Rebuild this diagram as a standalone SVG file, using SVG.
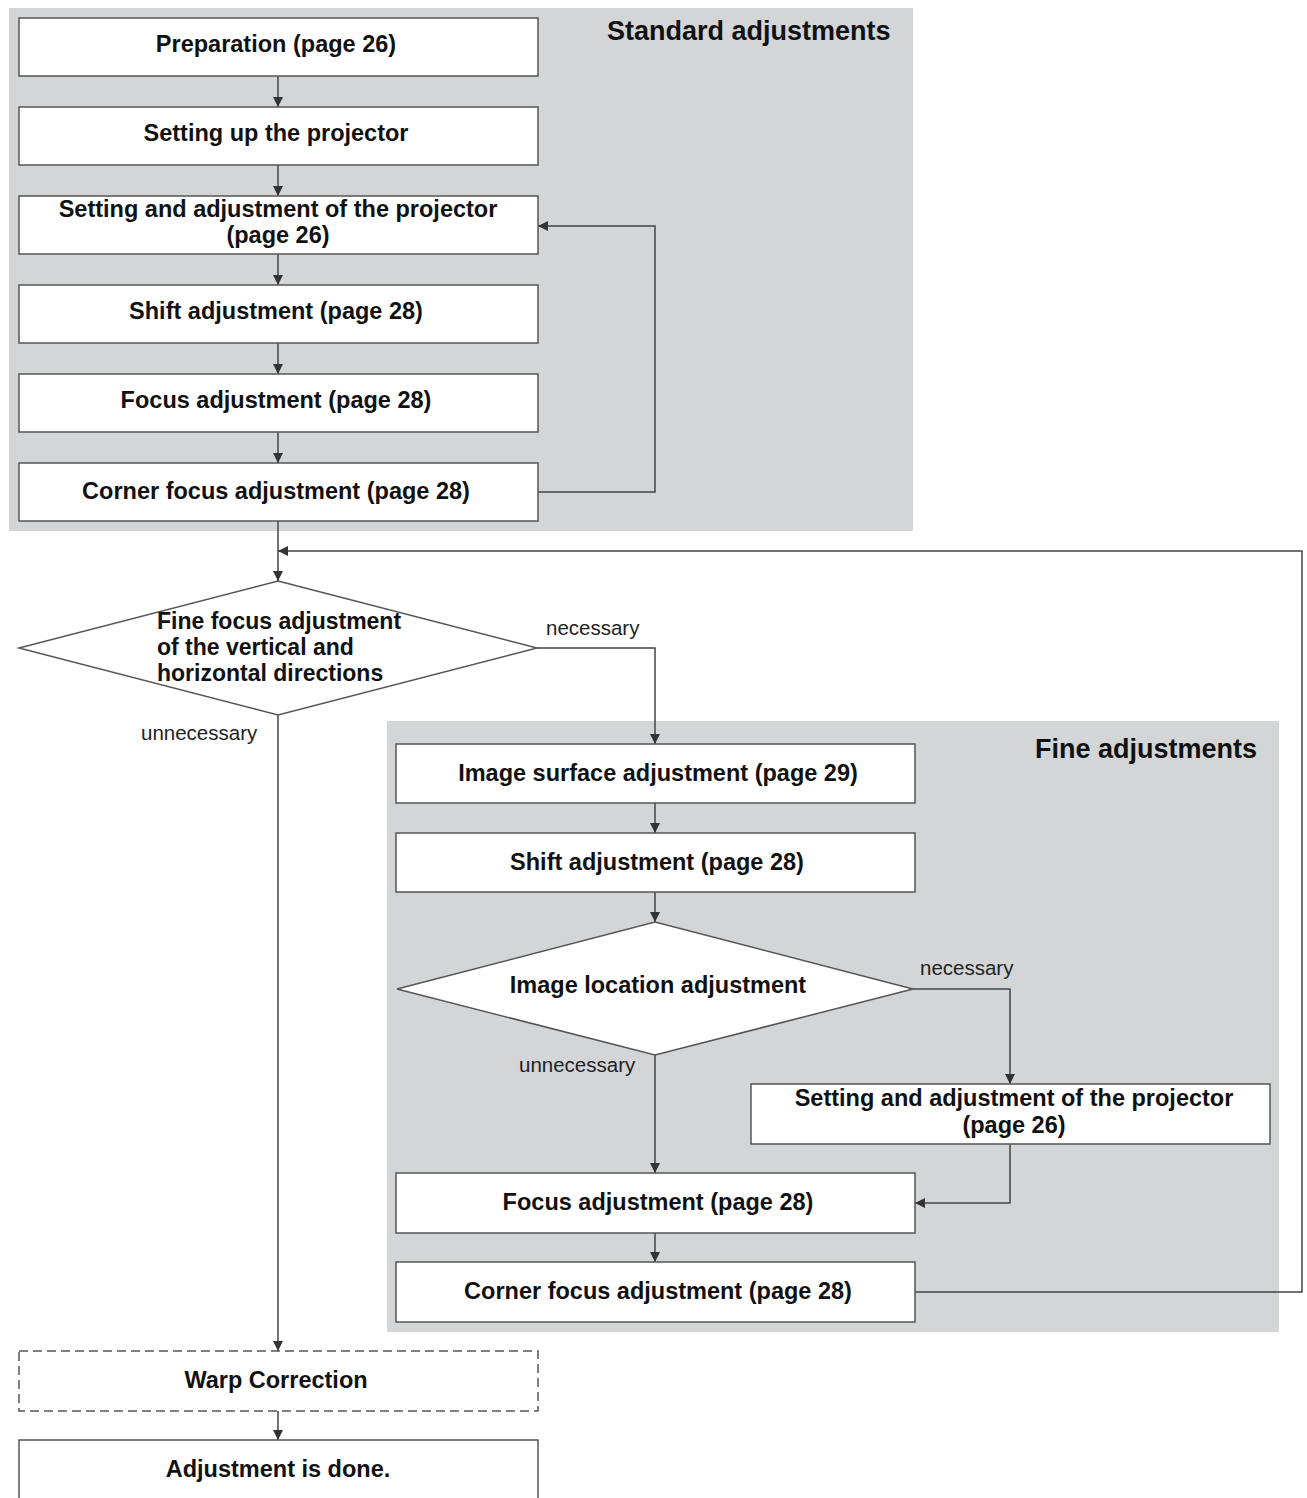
<svg xmlns="http://www.w3.org/2000/svg" width="1307" height="1498" viewBox="0 0 1307 1498">
<defs>
<marker id="ah" viewBox="0 0 10 10" refX="10" refY="5" markerWidth="10" markerHeight="10" markerUnits="userSpaceOnUse" orient="auto">
<path d="M0,0 L10,5 L0,10 z" fill="#333"/>
</marker>
<style>
.panel{fill:#d3d5d7;}
.box{fill:#fff;stroke:#555;stroke-width:1.5;}
.dash{fill:#fff;stroke:#555;stroke-width:1.5;stroke-dasharray:9,5;}
.t{font-family:"Liberation Sans",Arial,sans-serif;font-weight:bold;font-size:23.5px;fill:#111;text-anchor:middle;}
.tl{font-family:"Liberation Sans",Arial,sans-serif;font-weight:bold;font-size:23px;fill:#111;}
.title{font-family:"Liberation Sans",Arial,sans-serif;font-weight:bold;font-size:27px;fill:#111;}
.lbl{font-family:"Liberation Sans",Arial,sans-serif;font-size:20.5px;fill:#222;}
.c{fill:none;stroke:#444;stroke-width:1.5;}
</style>
</defs>
<rect width="1307" height="1498" fill="#fff"/>
<g id="panel-standard">
<rect class="panel" x="9" y="8" width="904" height="523"/>
<text class="title" x="607" y="40">Standard adjustments</text>
</g>
<g id="panel-fine">
<rect class="panel" x="387" y="721" width="892" height="611"/>
<text class="title" x="1035" y="758">Fine adjustments</text>
</g>
<g id="connectors">
<line class="c" x1="278" y1="76" x2="278" y2="107" marker-end="url(#ah)"/>
<line class="c" x1="278" y1="165" x2="278" y2="196" marker-end="url(#ah)"/>
<line class="c" x1="278" y1="254" x2="278" y2="285" marker-end="url(#ah)"/>
<line class="c" x1="278" y1="343" x2="278" y2="374" marker-end="url(#ah)"/>
<line class="c" x1="278" y1="432" x2="278" y2="463" marker-end="url(#ah)"/>
<polyline class="c" points="538,492 655,492 655,226 538,226" marker-end="url(#ah)"/>
<line class="c" x1="278" y1="521" x2="278" y2="581" marker-end="url(#ah)"/>
<polyline class="c" points="915,1292 1302,1292 1302,551 278,551" marker-end="url(#ah)"/>
<polyline class="c" points="537,648 655,648 655,744" marker-end="url(#ah)"/>
<line class="c" x1="278" y1="715" x2="278" y2="1351" marker-end="url(#ah)"/>
<line class="c" x1="655" y1="803" x2="655" y2="833" marker-end="url(#ah)"/>
<line class="c" x1="655" y1="892" x2="655" y2="922" marker-end="url(#ah)"/>
<polyline class="c" points="913,989 1010,989 1010,1084" marker-end="url(#ah)"/>
<line class="c" x1="655" y1="1055" x2="655" y2="1173" marker-end="url(#ah)"/>
<polyline class="c" points="1010,1144 1010,1203 915,1203" marker-end="url(#ah)"/>
<line class="c" x1="655" y1="1233" x2="655" y2="1262" marker-end="url(#ah)"/>
<line class="c" x1="278" y1="1411" x2="278" y2="1440" marker-end="url(#ah)"/>
<text class="lbl" x="546" y="635">necessary</text>
<text class="lbl" x="141" y="740">unnecessary</text>
<text class="lbl" x="920" y="975">necessary</text>
<text class="lbl" x="519" y="1072">unnecessary</text>
</g>
<g id="n-preparation">
<rect class="box" x="19" y="18" width="519" height="58"/>
<text class="t" x="276" y="52">Preparation (page 26)</text>
</g>
<g id="n-setup">
<rect class="box" x="19" y="107" width="519" height="58"/>
<text class="t" x="276" y="141">Setting up the projector</text>
</g>
<g id="n-setting1">
<rect class="box" x="19" y="196" width="519" height="58"/>
<text class="t" x="278" y="217">Setting and adjustment of the projector</text>
<text class="t" x="278" y="243">(page 26)</text>
</g>
<g id="n-shift1">
<rect class="box" x="19" y="285" width="519" height="58"/>
<text class="t" x="276" y="319">Shift adjustment (page 28)</text>
</g>
<g id="n-focus1">
<rect class="box" x="19" y="374" width="519" height="58"/>
<text class="t" x="276" y="408">Focus adjustment (page 28)</text>
</g>
<g id="n-corner1">
<rect class="box" x="19" y="463" width="519" height="58"/>
<text class="t" x="276" y="499">Corner focus adjustment (page 28)</text>
</g>
<g id="n-decision1">
<polygon class="box" points="278,581 537,648 278,715 19,648"/>
<text class="tl" x="157" y="629">Fine focus adjustment</text>
<text class="tl" x="157" y="655">of the vertical and</text>
<text class="tl" x="157" y="681">horizontal directions</text>
</g>
<g id="n-surface">
<rect class="box" x="396" y="744" width="519" height="59"/>
<text class="t" x="658" y="781">Image surface adjustment (page 29)</text>
</g>
<g id="n-shift2">
<rect class="box" x="396" y="833" width="519" height="59"/>
<text class="t" x="657" y="870">Shift adjustment (page 28)</text>
</g>
<g id="n-decision2">
<polygon class="box" points="655,922 913,989 655,1055 397,989"/>
<text class="t" x="658" y="993">Image location adjustment</text>
</g>
<g id="n-setting2">
<rect class="box" x="751" y="1084" width="519" height="60"/>
<text class="t" x="1014" y="1106">Setting and adjustment of the projector</text>
<text class="t" x="1014" y="1133">(page 26)</text>
</g>
<g id="n-focus2">
<rect class="box" x="396" y="1173" width="519" height="60"/>
<text class="t" x="658" y="1210">Focus adjustment (page 28)</text>
</g>
<g id="n-corner2">
<rect class="box" x="396" y="1262" width="519" height="60"/>
<text class="t" x="658" y="1299">Corner focus adjustment (page 28)</text>
</g>
<g id="n-warp">
<rect class="dash" x="19" y="1351" width="519" height="60"/>
<text class="t" x="276" y="1388">Warp Correction</text>
</g>
<g id="n-done">
<rect class="box" x="19" y="1440" width="519" height="70"/>
<text class="t" x="278" y="1477">Adjustment is done.</text>
</g>
</svg>
